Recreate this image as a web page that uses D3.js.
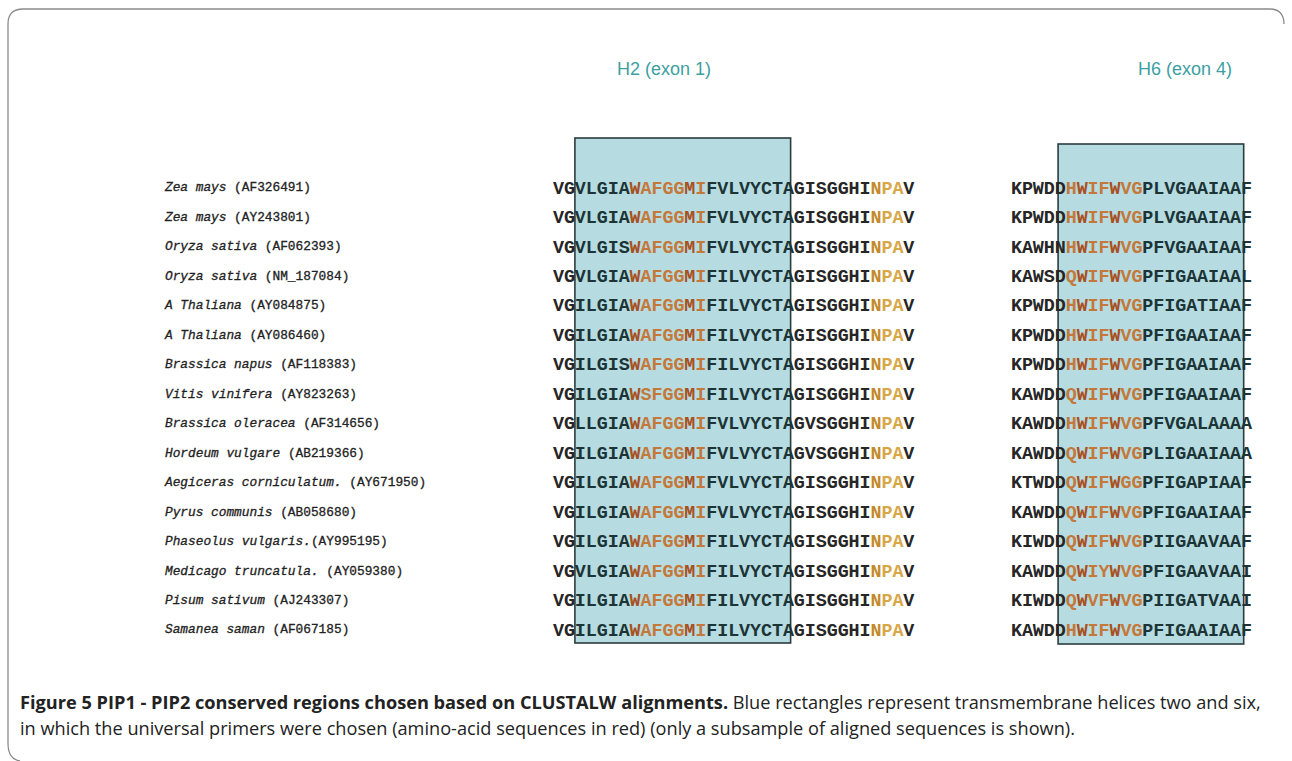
<!DOCTYPE html>
<html>
<head>
<meta charset="utf-8">
<script src="https://cdn.jsdelivr.net/npm/d3@7"></script>
<style>
  body { margin: 0; background: #fff; }
  svg { display: block; }
</style>
</head>
<body>
<div id="viz"></div>
<script>
// species (italic part) and GenBank accession numbers, one per aligned row
var species = ["Zea mays", "Zea mays", "Oryza sativa", "Oryza sativa", "A Thaliana", "A Thaliana",
  "Brassica napus", "Vitis vinifera", "Brassica oleracea", "Hordeum vulgare", "Aegiceras corniculatum.",
  "Pyrus communis", "Phaseolus vulgaris.", "Medicago truncatula.", "Pisum sativum", "Samanea saman"];
var accessions = ["(AF326491)", "(AY243801)", "(AF062393)", "(NM_187084)", "(AY084875)", "(AY086460)",
  "(AF118383)", "(AY823263)", "(AF314656)", "(AB219366)", "(AY671950)",
  "(AB058680)", "(AY995195)", "(AY059380)", "(AJ243307)", "(AF067185)"];
var noSpace = [false, false, false, false, false, false, false, false, false, false, false, false, true, false, false, false];

// helix 2 region (exon 1)
var h2Seqs = [
  "VGVLGIAWAFGGMIFVLVYCTAGISGGHINPAV",
  "VGVLGIAWAFGGMIFVLVYCTAGISGGHINPAV",
  "VGVLGISWAFGGMIFVLVYCTAGISGGHINPAV",
  "VGVLGIAWAFGGMIFILVYCTAGISGGHINPAV",
  "VGILGIAWAFGGMIFILVYCTAGISGGHINPAV",
  "VGILGIAWAFGGMIFILVYCTAGISGGHINPAV",
  "VGILGISWAFGGMIFILVYCTAGISGGHINPAV",
  "VGILGIAWSFGGMIFILVYCTAGISGGHINPAV",
  "VGLLGIAWAFGGMIFVLVYCTAGVSGGHINPAV",
  "VGILGIAWAFGGMIFVLVYCTAGVSGGHINPAV",
  "VGILGIAWAFGGMIFVLVYCTAGISGGHINPAV",
  "VGILGIAWAFGGMIFVLVYCTAGISGGHINPAV",
  "VGILGIAWAFGGMIFILVYCTAGISGGHINPAV",
  "VGVLGIAWAFGGMIFILVYCTAGISGGHINPAV",
  "VGILGIAWAFGGMIFILVYCTAGISGGHINPAV",
  "VGILGIAWAFGGMIFILVYCTAGISGGHINPAV"
];

// helix 6 region (exon 4)
var h6Seqs = [
  "KPWDDHWIFWVGPLVGAAIAAF",
  "KPWDDHWIFWVGPLVGAAIAAF",
  "KAWHNHWIFWVGPFVGAAIAAF",
  "KAWSDQWIFWVGPFIGAAIAAL",
  "KPWDDHWIFWVGPFIGATIAAF",
  "KPWDDHWIFWVGPFIGAAIAAF",
  "KPWDDHWIFWVGPFIGAAIAAF",
  "KAWDDQWIFWVGPFIGAAIAAF",
  "KAWDDHWIFWVGPFVGALAAAA",
  "KAWDDQWIFWVGPLIGAAIAAA",
  "KTWDDQWIFWGGPFIGAPIAAF",
  "KAWDDQWIFWVGPFIGAAIAAF",
  "KIWDDQWIFWVGPIIGAAVAAF",
  "KAWDDQWIYWVGPFIGAAVAAI",
  "KIWDDQWVFWVGPIIGATVAAI",
  "KAWDDHWIFWVGPFIGAAIAAF"
];

var headers = ["H2 (exon 1)", "H6 (exon 4)"];

// helix spans in residue units, and residue ranges used for the primers
var h2Helix = [2, 21.7];
var h6Helix = [4.3, 21.25];
var h2Primer = [7, 13];
var h2Motif = [29, 31];
var h6Primer = [5, 11];

var captionBold = "Figure 5 PIP1 - PIP2 conserved regions chosen based on CLUSTALW alignments.";
var captionRest = " Blue rectangles represent transmembrane helices two and six,";
var captionLine2 = "in which the universal primers were chosen (amino-acid sequences in red) (only a subsample of aligned sequences is shown).";

// ---------------------------------------------------------------------------

var w = 1292;
var h = 761;

var svg = d3.select("div#viz")
  .append("svg")
  .attr("width", w)
  .attr("height", h);

// frame round the figure (top and left edges, rounded corners)
svg.append("path")
  .attr("d", "M1284,24 Q1284,9 1269,9 L23,9 Q8,9 8,24 L8,744 Q8,759 20,761")
  .attr("fill", "none")
  .attr("stroke", "#8a8a8a")
  .attr("stroke-width", 1.3);

// one row per sequence
var y = d3.scalePoint()
  .domain(d3.range(species.length))
  .range([187, 629]);

// species labels
var labels = svg.selectAll("text.label")
  .data(species)
  .enter()
  .append("text")
  .attr("class", "label")
  .attr("x", 165)
  .attr("y", function (d, i) { return y(i); })
  .attr("dy", "0.35em")
  .style("font-family", "'Liberation Mono', 'DejaVu Sans Mono', monospace")
  .style("font-size", "12.8px")
  .style("fill", "#222")
  .style("stroke", "#222")
  .style("stroke-width", 0.3)
  .attr("xml:space", "preserve");

labels.append("tspan")
  .style("font-style", "italic")
  .text(function (d) { return d; });

labels.append("tspan")
  .text(function (d, i) { return (noSpace[i] ? "" : " ") + accessions[i]; });

// colour of one residue
function residueColor(c, i, helix, primer, motif) {
  if (i >= primer[0] && i <= primer[1]) {
    if (c == "W" || c == "M") return "#a9501f";
    return "#c4783a";
  }
  if (motif && i >= motif[0] && i <= motif[1]) {
    if (c == "N") return "#c28a2c";
    return "#d8a747";
  }
  if (i >= helix[0] && i < helix[1]) return "#1c3436";
  return "#262626";
}

// draw one aligned block with its helix box
function drawBlock(seqs, x0, pitch, helix, boxTop, boxBottom, primer, motif, header, headerX) {
  var n = seqs[0].length;
  var x = d3.scaleLinear().domain([0, n]).range([x0, x0 + pitch * n]);

  svg.append("rect")
    .attr("x", x(helix[0]))
    .attr("y", boxTop)
    .attr("width", x(helix[1]) - x(helix[0]))
    .attr("height", boxBottom - boxTop)
    .attr("fill", "#b6dce1")
    .attr("stroke", "#2c3c3e")
    .attr("stroke-width", 1.6);

  var rows = svg.append("g")
    .selectAll("text")
    .data(seqs)
    .enter()
    .append("text")
    .attr("y", function (d, i) { return y(i); })
    .attr("dy", "0.36em")
    .style("font-family", "'Liberation Mono', 'DejaVu Sans Mono', monospace")
    .style("font-weight", "bold")
    .style("font-size", "18.4px");

  rows.selectAll("tspan")
    .data(function (d) {
      return d.split("").map(function (c, i) { return {c: c, i: i}; });
    })
    .enter()
    .append("tspan")
    .attr("x", function (d) { return x(d.i) + pitch / 2; })
    .attr("text-anchor", "middle")
    .style("fill", function (d) { return residueColor(d.c, d.i, helix, primer, motif); })
    .text(function (d) { return d.c; });

  svg.append("text")
    .attr("x", headerX)
    .attr("y", 75)
    .style("font-family", "'Liberation Sans', Arial, sans-serif")
    .style("font-size", "18px")
    .style("fill", "#3c9fa2")
    .text(header);
}

drawBlock(h2Seqs, 553, 10.95, h2Helix, 138, 643, h2Primer, h2Motif, headers[0], 617);
drawBlock(h6Seqs, 1011, 10.95, h6Helix, 144, 644, h6Primer, null, headers[1], 1138);

// caption
var cap1 = svg.append("text")
  .attr("x", 20)
  .attr("y", 709)
  .style("font-family", "'Open Sans', 'Noto Sans', sans-serif")
  .style("font-size", "16px")
  .style("fill", "#222");

cap1.append("tspan").style("font-weight", "bold").text(captionBold);
cap1.append("tspan").text(captionRest);

var cap2 = svg.append("text")
  .attr("x", 20)
  .attr("y", 735)
  .style("font-family", "'Open Sans', 'Noto Sans', sans-serif")
  .style("font-size", "16px")
  .style("fill", "#222")
  .text(captionLine2);

// fit the first caption line to the width of the figure
var target = 1262 - 20;
var len = cap1.node().getComputedTextLength();
var fs = 16 * target / len;
cap1.style("font-size", fs + "px");
cap2.style("font-size", fs + "px");
</script>
</body>
</html>
